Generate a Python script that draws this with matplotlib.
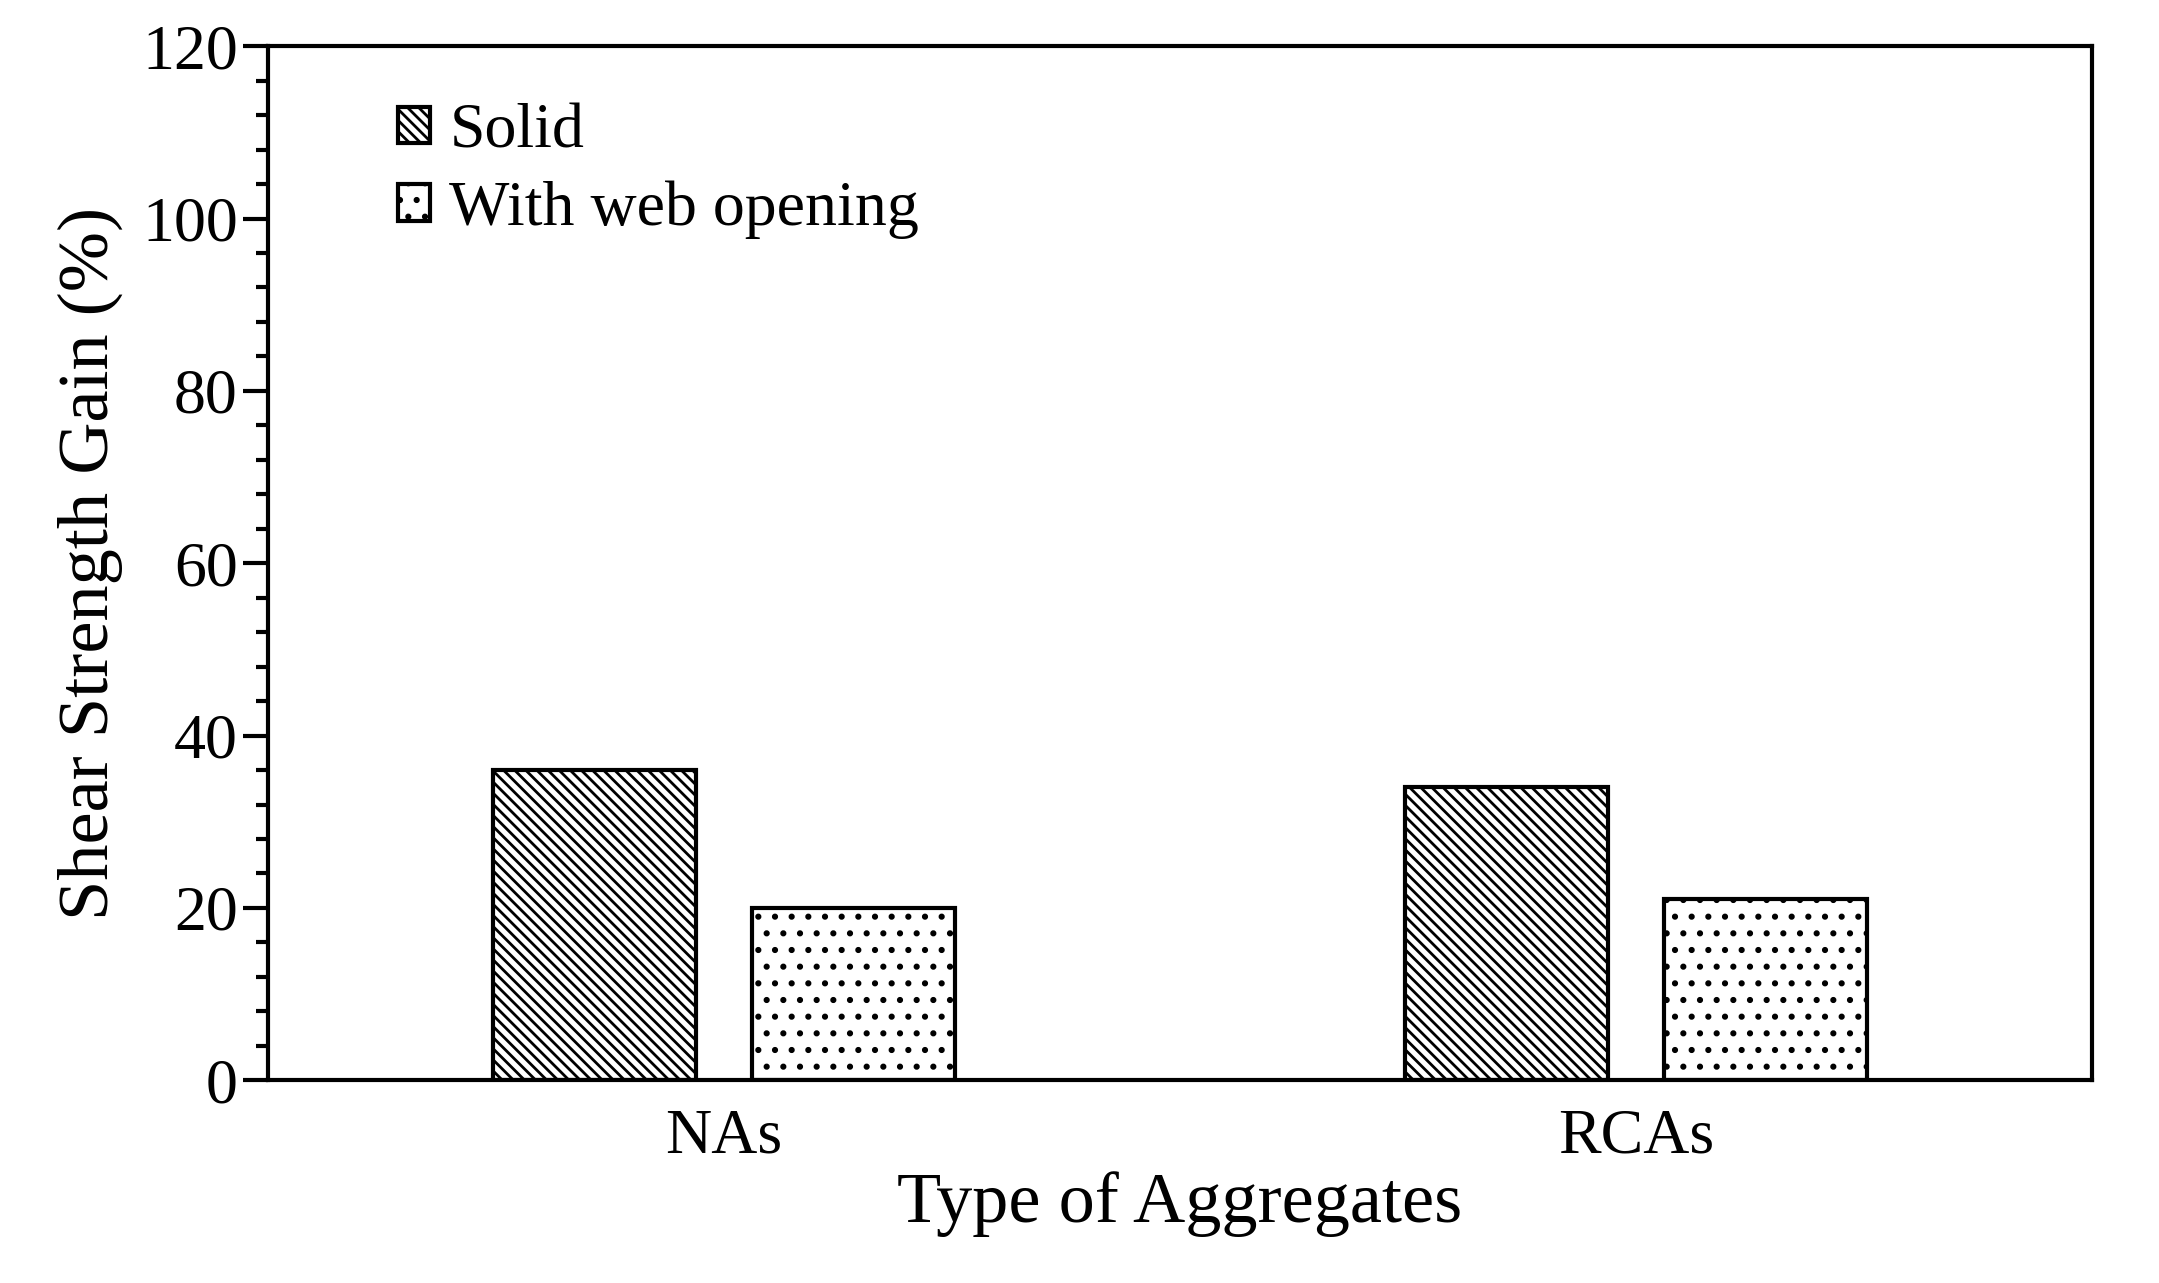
import matplotlib
matplotlib.use("Agg")
import matplotlib.pyplot as plt
import numpy as np
from matplotlib.ticker import MultipleLocator

categories = ["NAs", "RCAs"]
solid = [36, 34]
opening = [20, 21]

plt.rcParams['font.family'] = ['Liberation Serif', 'DejaVu Serif']
plt.rcParams['hatch.linewidth'] = 2.0
fig = plt.figure(figsize=(21.59, 12.83), dpi=100)
ax = fig.add_axes([0.124, 0.158, 0.845, 0.806])
x = np.arange(len(categories))
w = 0.223
ax.bar(x - 0.142, solid, w, facecolor='white', edgecolor='black', linewidth=3, hatch='\\\\\\', label='Solid')
ax.bar(x + 0.142, opening, w, facecolor='white', edgecolor='black', linewidth=3, hatch='.', label='With web opening')
ax.set_xlim(-0.5, 1.5)
ax.set_ylim(0, 120)
ax.yaxis.set_major_locator(MultipleLocator(20))
ax.yaxis.set_minor_locator(MultipleLocator(4))
ax.set_xticks(x)
ax.set_xticklabels(categories)
ax.tick_params(axis='x', length=0, labelsize=46, pad=20)
ax.tick_params(axis='y', which='major', length=18, width=3, labelsize=46, direction='out')
ax.tick_params(axis='y', which='minor', length=9, width=3, direction='out')
for s in ax.spines.values():
    s.set_linewidth(3)
ax.set_xlabel("Type of Aggregates", fontsize=52, labelpad=4)
ax.set_ylabel("Shear Strength Gain (%)", fontsize=52, labelpad=14)
leg = ax.legend(loc='upper left', frameon=False, fontsize=46, handlelength=0.5, handleheight=0.5,
                handletextpad=0.3, labelspacing=0.3, borderaxespad=0.5, bbox_to_anchor=(0.04, 1.0))
fig.savefig("out.png", dpi=100)
